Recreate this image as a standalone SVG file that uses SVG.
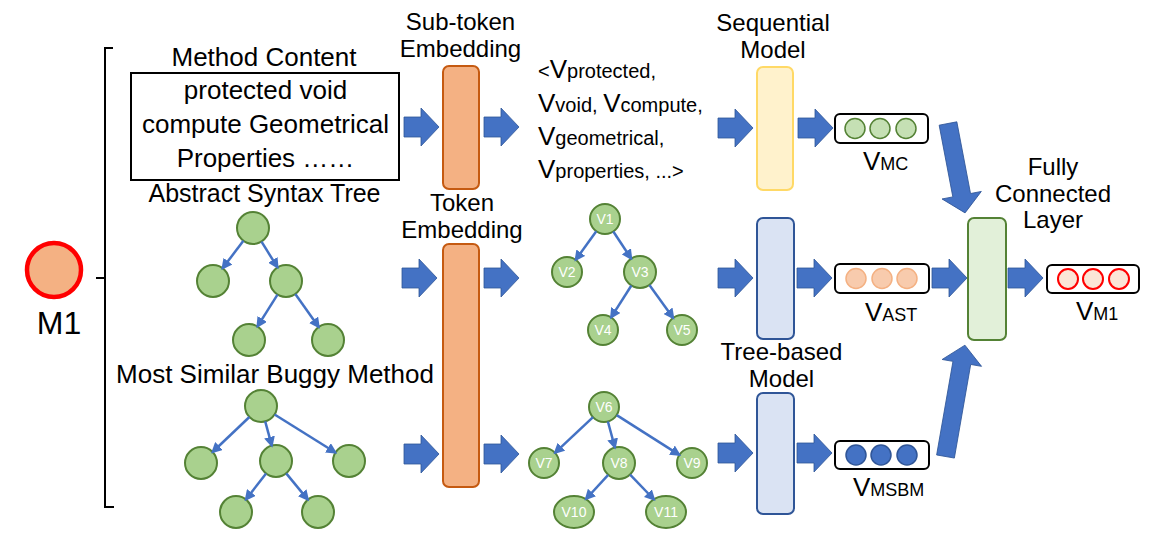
<svg xmlns="http://www.w3.org/2000/svg" xmlns:xlink="http://www.w3.org/1999/xlink" width="1153" height="545" viewBox="0 0 1153 545">
<defs>
<style>
text{font-family:"Liberation Sans",Arial,sans-serif;fill:#000}
.t{font-size:24px;text-anchor:middle}
.t26{font-size:26px;text-anchor:middle}
.tok{font-size:20px}
.big{font-size:26px}
.sub{font-size:18px}
.nl{font-size:14px;fill:#fff;text-anchor:middle}
.node{fill:#A9D18E;stroke:#548235;stroke-width:2}
.edge{stroke:#4472C4;stroke-width:2.5;fill:none;marker-end:url(#ah)}
.barrow{fill:#4472C4;stroke:#2F5597;stroke-width:0.8}
.vbox{fill:#fff;stroke:#000;stroke-width:2}
.emb{fill:#F4B183;stroke:#C55A11;stroke-width:2}
</style>
<marker id="ah" viewBox="0 0 10 10" refX="8" refY="5" markerWidth="11" markerHeight="11" markerUnits="userSpaceOnUse" orient="auto">
<path d="M0,0 L10,5 L0,10 z" fill="#4472C4"/>
</marker>
<path id="harrow" d="M0,-10 H17 V-19 L35,0 L17,19 V10 H0 Z"/>
</defs>

<g id="m1">
<circle cx="54" cy="270" r="27" fill="#F4B183" stroke="#FF0000" stroke-width="4.5"/>
<text x="59" y="334" style="font-size:32px;text-anchor:middle">M1</text>
</g>

<g id="bracket">
<path d="M113,48 H105 V507 H114 M105,278 H96" fill="none" stroke="#000" stroke-width="2"/>
</g>

<g id="method-content">
<text class="t26" x="264" y="66">Method Content</text>
<rect x="131" y="73" width="268" height="107" fill="#fff" stroke="#000" stroke-width="2"/>
<text class="t26" x="265.5" y="99">protected void</text>
<text class="t26" x="265.5" y="133">compute Geometrical</text>
<text class="t26" x="265.5" y="167">Properties ……</text>
</g>

<g id="ast-tree">
<text class="t" x="264.5" y="202" style="font-size:25px">Abstract Syntax Tree</text>
<circle class="node" cx="253" cy="228" r="16"/>
<circle class="node" cx="213" cy="281" r="16"/>
<circle class="node" cx="286" cy="281" r="16"/>
<circle class="node" cx="249" cy="340" r="16"/>
<circle class="node" cx="328" cy="340" r="16"/>
</g>

<g id="msbm-tree">
<text class="t26" x="275" y="383">Most Similar Buggy Method</text>
<circle class="node" cx="261" cy="406" r="16"/>
<circle class="node" cx="201" cy="463" r="16"/>
<circle class="node" cx="276" cy="461" r="16"/>
<circle class="node" cx="349" cy="461" r="16"/>
<circle class="node" cx="236" cy="512" r="16"/>
<circle class="node" cx="318" cy="512" r="16"/>
</g>

<g id="subtoken-embedding">
<text class="t" x="460.5" y="30">Sub-token</text>
<text class="t" x="460.5" y="57">Embedding</text>
<rect class="emb" x="443" y="66" width="36" height="123" rx="6"/>
</g>

<g id="token-embedding">
<text class="t" x="462" y="211">Token</text>
<text class="t" x="462" y="238">Embedding</text>
<rect class="emb" x="443" y="244" width="36" height="243" rx="6"/>
</g>

<g id="token-list">
<text class="tok" x="538" y="78">&lt;<tspan class="big">V</tspan>protected,</text>
<text class="tok" x="538" y="112"><tspan class="big">V</tspan>void, <tspan class="big">V</tspan>compute,</text>
<text class="tok" x="538" y="145"><tspan class="big">V</tspan>geometrical,</text>
<text class="tok" x="538" y="178"><tspan class="big">V</tspan>properties, ...&gt;</text>
</g>

<g id="ast-vtree">
<circle class="node" cx="605" cy="219" r="15"/><text class="nl" x="605" y="224">V1</text>
<circle class="node" cx="567" cy="272" r="15"/><text class="nl" x="567" y="277">V2</text>
<circle class="node" cx="640" cy="272" r="16"/><text class="nl" x="640" y="277">V3</text>
<circle class="node" cx="603" cy="330" r="15"/><text class="nl" x="603" y="335">V4</text>
<circle class="node" cx="682" cy="330" r="15"/><text class="nl" x="682" y="335">V5</text>
</g>

<g id="msbm-vtree">
<circle class="node" cx="604" cy="407" r="15"/><text class="nl" x="604" y="412">V6</text>
<circle class="node" cx="544" cy="463" r="15"/><text class="nl" x="544" y="468">V7</text>
<circle class="node" cx="619" cy="463" r="16"/><text class="nl" x="619" y="468">V8</text>
<circle class="node" cx="692" cy="463" r="15"/><text class="nl" x="692" y="468">V9</text>
<ellipse class="node" cx="574" cy="512" rx="20" ry="16"/><text class="nl" x="574" y="517">V10</text>
<ellipse class="node" cx="666" cy="512" rx="20" ry="16"/><text class="nl" x="666" y="517">V11</text>
</g>

<g id="sequential-model">
<text class="t" x="773" y="31">Sequential</text>
<text class="t" x="773" y="58">Model</text>
<rect x="757" y="67" width="36" height="123" rx="6" fill="#FFF2CC" stroke="#FFD966" stroke-width="2"/>
</g>

<g id="tree-model-ast">
<rect x="757" y="218" width="37" height="121" rx="6" fill="#DAE3F3" stroke="#2F5597" stroke-width="2"/>
</g>

<g id="tree-model-msbm">
<text class="t" x="781.5" y="360">Tree-based</text>
<text class="t" x="781.5" y="387">Model</text>
<rect x="757" y="393" width="37" height="121" rx="6" fill="#DAE3F3" stroke="#2F5597" stroke-width="2"/>
</g>

<g id="v-mc">
<rect class="vbox" x="835" y="114" width="93" height="29" rx="5"/>
<circle cx="855" cy="128.5" r="10" fill="#C5E0B4" stroke="#548235" stroke-width="1.5"/>
<circle cx="880" cy="128.5" r="10" fill="#C5E0B4" stroke="#548235" stroke-width="1.5"/>
<circle cx="906" cy="128.5" r="10" fill="#C5E0B4" stroke="#548235" stroke-width="1.5"/>
<text class="sub" x="863" y="170"><tspan class="big">V</tspan>MC</text>
</g>

<g id="v-ast">
<rect class="vbox" x="835" y="264" width="94" height="29" rx="5"/>
<circle cx="856" cy="278.5" r="10" fill="#F8CBAD" stroke="#F4B183" stroke-width="1.5"/>
<circle cx="882" cy="278.5" r="10" fill="#F8CBAD" stroke="#F4B183" stroke-width="1.5"/>
<circle cx="907" cy="278.5" r="10" fill="#F8CBAD" stroke="#F4B183" stroke-width="1.5"/>
<text class="sub" x="865" y="321"><tspan class="big">V</tspan>AST</text>
</g>

<g id="v-msbm">
<rect class="vbox" x="835" y="441" width="94" height="28" rx="5"/>
<circle cx="856" cy="455" r="10" fill="#4472C4" stroke="#2F5597" stroke-width="1.5"/>
<circle cx="881" cy="455" r="10" fill="#4472C4" stroke="#2F5597" stroke-width="1.5"/>
<circle cx="907" cy="455" r="10" fill="#4472C4" stroke="#2F5597" stroke-width="1.5"/>
<text class="sub" x="853" y="496"><tspan class="big">V</tspan>MSBM</text>
</g>

<g id="fc-layer">
<text class="t" x="1053" y="175">Fully</text>
<text class="t" x="1053" y="202">Connected</text>
<text class="t" x="1053" y="228">Layer</text>
<rect x="968" y="218" width="38" height="122" rx="6" fill="#E2F0D9" stroke="#548235" stroke-width="2"/>
</g>

<g id="v-m1">
<rect class="vbox" x="1047" y="265" width="92" height="28" rx="5"/>
<circle cx="1068" cy="279" r="10" fill="#FBE5D6" stroke="#FF0000" stroke-width="2"/>
<circle cx="1093" cy="279" r="10" fill="#FBE5D6" stroke="#FF0000" stroke-width="2"/>
<circle cx="1119" cy="279" r="10" fill="#FBE5D6" stroke="#FF0000" stroke-width="2"/>
<text class="sub" x="1076" y="320"><tspan class="big">V</tspan>M1</text>
</g>

<g id="connectors">
<line class="edge" x1="243.4" y1="240.8" x2="222.6" y2="268.2"/>
<line class="edge" x1="261.5" y1="241.6" x2="277.5" y2="267.4"/>
<line class="edge" x1="277.5" y1="294.6" x2="257.5" y2="326.4"/>
<line class="edge" x1="295.3" y1="294" x2="318.7" y2="327"/>

<line class="edge" x1="249.4" y1="417" x2="212.6" y2="452"/>
<line class="edge" x1="265.2" y1="421.4" x2="271.8" y2="445.6"/>
<line class="edge" x1="274.6" y1="414.5" x2="335.4" y2="452.5"/>
<line class="edge" x1="266.1" y1="473.6" x2="245.9" y2="499.4"/>
<line class="edge" x1="286.2" y1="473.4" x2="307.8" y2="499.6"/>

<line class="edge" x1="596.3" y1="231.2" x2="575.7" y2="259.8"/>
<line class="edge" x1="613.3" y1="231.5" x2="631.2" y2="258.6"/>
<line class="edge" x1="631.4" y1="285.5" x2="611.1" y2="317.4"/>
<line class="edge" x1="649.4" y1="285" x2="673.2" y2="317.9"/>

<line class="edge" x1="593" y1="417.2" x2="555" y2="452.8"/>
<line class="edge" x1="607.9" y1="421.5" x2="614.9" y2="447.5"/>
<line class="edge" x1="616.7" y1="415.1" x2="679.3" y2="454.9"/>
<line class="edge" x1="608.2" y1="474.8" x2="586" y2="499"/>
<line class="edge" x1="630.1" y1="474.6" x2="654" y2="499.5"/>

<use href="#harrow" class="barrow" x="404" y="127"/>
<use href="#harrow" class="barrow" x="484" y="127"/>
<use href="#harrow" class="barrow" x="718" y="128"/>
<use href="#harrow" class="barrow" x="798" y="128"/>

<use href="#harrow" class="barrow" x="402" y="278"/>
<use href="#harrow" class="barrow" x="484" y="278"/>
<use href="#harrow" class="barrow" x="718" y="278"/>
<use href="#harrow" class="barrow" x="797" y="278"/>

<use href="#harrow" class="barrow" x="404" y="454"/>
<use href="#harrow" class="barrow" x="484" y="454"/>
<use href="#harrow" class="barrow" x="718" y="453"/>
<use href="#harrow" class="barrow" x="797" y="453"/>

<use href="#harrow" class="barrow" x="932" y="278"/>
<use href="#harrow" class="barrow" x="1008" y="278"/>

<path class="barrow" transform="translate(948,123.5) rotate(79.2)" d="M0,-9 H73 V-20 L91,0 L73,20 V9 H0 Z"/>
<path class="barrow" transform="translate(945.5,456.5) rotate(-80.1)" d="M0,-9 H95 V-20 L113,0 L95,20 V9 H0 Z"/>
</g>
</svg>
